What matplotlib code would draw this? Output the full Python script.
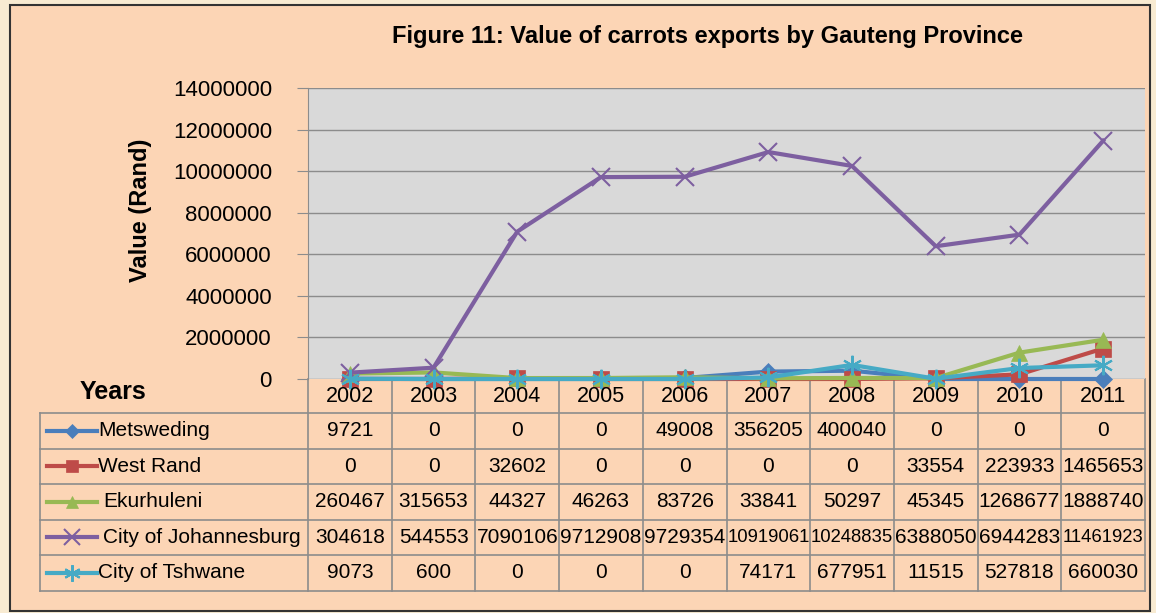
import numpy as np
import matplotlib.pyplot as plt
from matplotlib.patches import Rectangle
from matplotlib.lines import Line2D

years = [2002, 2003, 2004, 2005, 2006, 2007, 2008, 2009, 2010, 2011]
metsweding = [9721, 0, 0, 0, 49008, 356205, 400040, 0, 0, 0]
west_rand = [0, 0, 32602, 0, 0, 0, 0, 33554, 223933, 1465653]
ekurhuleni = [260467, 315653, 44327, 46263, 83726, 33841, 50297, 45345, 1268677, 1888740]
johannesburg = [304618, 544553, 7090106, 9712908, 9729354, 10919061, 10248835, 6388050, 6944283, 11461923]
tshwane = [9073, 600, 0, 0, 0, 74171, 677951, 11515, 527818, 660030]

names = ["Metsweding", "West Rand", "Ekurhuleni", "City of Johannesburg", "City of Tshwane"]
series = [metsweding, west_rand, ekurhuleni, johannesburg, tshwane]
colors = ["#4A7EBB", "#BE4B48", "#98B954", "#7D5FA0", "#46AAC5"]
markers = ["D", "s", "^", "x", (6, 2, 0)]
msizes = [9, 11, 11, 13, 14]

plt.rcParams['font.family'] = ['Liberation Sans Narrow', 'Liberation Sans', 'DejaVu Sans']

W, H = 1156, 613
fig = plt.figure(figsize=(W / 100, H / 100), dpi=100)
fig.patch.set_facecolor("#F8EBD2")

def fx(px):
    return px / W

def fy(py):
    return 1 - py / H

# chart background and frame
fig.patches.append(Rectangle((fx(10), fy(611)), fx(1150) - fx(10), fy(5) - fy(611),
                             transform=fig.transFigure, facecolor="#FCD5B5",
                             edgecolor="#333333", linewidth=1.5, zorder=-5))

ax = fig.add_axes([fx(308), fy(379), fx(1145) - fx(308), fy(88) - fy(379)])
ax.set_zorder(2)
ax.set_facecolor("#D9D9D9")
x = np.arange(len(years))
for s, c, m, ms, n in zip(series, colors, markers, msizes, names):
    ax.plot(x, s, color=c, marker=m, markersize=ms, linewidth=3, label=n,
            markeredgewidth=1.5 if m in ("x", (6, 2, 0)) else 0.5,
            clip_on=False, zorder=3)
ax.set_xlim(-0.5, len(years) - 0.5)
ax.set_ylim(0, 14000000)
ax.set_yticks(np.arange(0, 14000001, 2000000))
ax.set_yticklabels([str(v) for v in range(0, 14000001, 2000000)], fontsize=16)
ax.set_xticks([])
ax.yaxis.grid(True, color="#8C8C8C", linewidth=1)
ax.set_axisbelow(True)
for sp in ["top", "right", "bottom"]:
    ax.spines[sp].set_visible(False)
ax.spines["left"].set_color("#8C8C8C")
ax.tick_params(axis="y", color="#8C8C8C", length=8, pad=18)

fig.text(fx(707), fy(37), "Figure 11: Value of carrots exports by Gauteng Province",
         ha="center", va="center", fontsize=17, fontweight="bold")
fig.text(fx(140), fy(210), "Value (Rand)", rotation=90, ha="center", va="center",
         fontsize=17, fontweight="bold")
fig.text(fx(113), fy(392), "Years", ha="center", va="center", fontsize=18, fontweight="bold")

# data table
grid = "#8C8C8C"
x0, x1 = 308, 1145
cw = (x1 - x0) / len(years)
row_top = 413
rh = 35.5
nrows = len(series)
bottom = row_top + rh * nrows
for i in range(nrows + 1):
    y = row_top + i * rh
    fig.add_artist(Line2D([fx(40), fx(x1)], [fy(y), fy(y)], color=grid, lw=1.2))
for k in range(len(years) + 1):
    xx = x0 + k * cw
    fig.add_artist(Line2D([fx(xx), fx(xx)], [fy(379), fy(bottom)], color=grid, lw=1.2))
fig.add_artist(Line2D([fx(40), fx(40)], [fy(row_top), fy(bottom)], color=grid, lw=1.2))

for k, yr in enumerate(years):
    fig.text(fx(x0 + (k + 0.5) * cw), fy(397), str(yr), ha="center", va="center", fontsize=15.5)

for i, (s, c, m, ms, n) in enumerate(zip(series, colors, markers, msizes, names)):
    yc = row_top + (i + 0.5) * rh
    mew = 1.5 if m in ("x", (6, 2, 0)) else 0.5
    fig.add_artist(Line2D([fx(47), fx(97)], [fy(yc), fy(yc)], color=c, lw=3))
    fig.add_artist(Line2D([fx(72)], [fy(yc)], color=c, marker=m, markersize=ms - 2,
                          markeredgewidth=mew, linestyle="none"))
    fig.text(fx(98 if i in (0, 1, 4) else 103), fy(yc), n, ha="left", va="center", fontsize=15)
    for k, v in enumerate(s):
        fs = 13.3 if len(str(v)) > 7 else 15
        fig.text(fx(x0 + (k + 0.5) * cw), fy(yc), str(v), ha="center", va="center", fontsize=fs)

fig.savefig("out.png", dpi=100, facecolor=fig.get_facecolor())
